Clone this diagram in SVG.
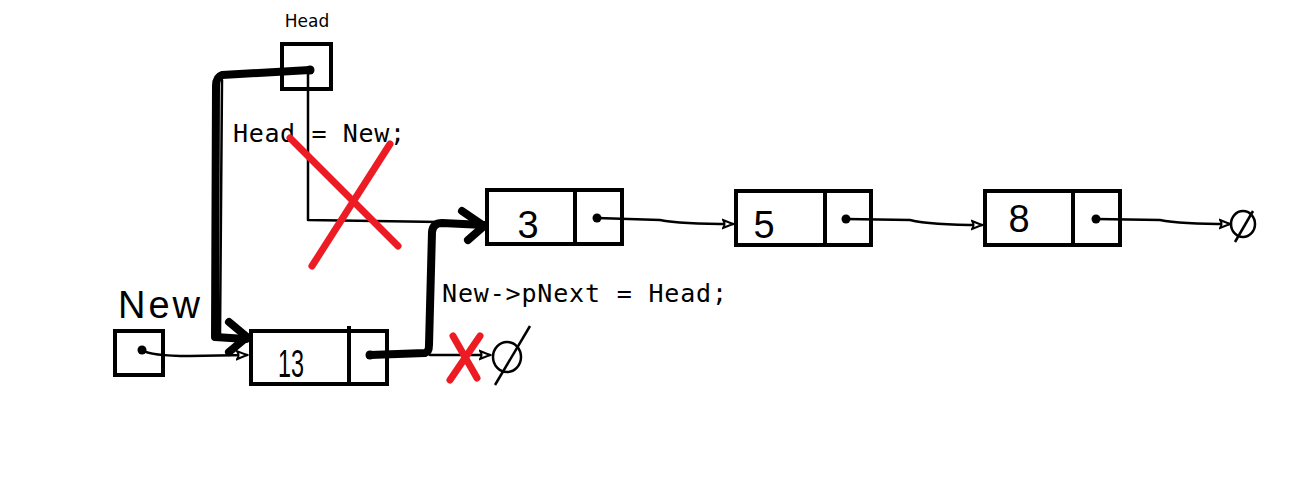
<svg xmlns="http://www.w3.org/2000/svg" width="1299" height="496" viewBox="0 0 1299 496">
<style>
.box{fill:none;stroke:#000;stroke-width:4}
.thin{fill:none;stroke:#000;stroke-width:2.5;stroke-linecap:round;stroke-linejoin:round}
.thick{fill:none;stroke:#000;stroke-width:8;stroke-linecap:round;stroke-linejoin:round}
.red{fill:none;stroke:#ed1c24;stroke-width:7;stroke-linecap:round}
.code{font-family:"DejaVu Sans Mono","Liberation Mono",monospace;font-size:25px;fill:#000}
.hand{font-family:"Liberation Sans",sans-serif;font-size:38px;fill:#000}
.dot{fill:#000}
</style>
<defs>
<marker id="ah" markerWidth="14" markerHeight="12" refX="11" refY="6" orient="auto" markerUnits="userSpaceOnUse">
<path d="M1,2 L11,6 L1,10 Q4,6 1,2 Z" fill="#fff" stroke="#000" stroke-width="2"/>
</marker>
</defs>
<rect width="1299" height="496" fill="#fff"/>

<g id="head">
<text x="307" y="27" font-family="DejaVu Sans,sans-serif" font-size="17" text-anchor="middle">Head</text>
<rect class="box" x="282" y="44" width="49" height="45"/>
<circle class="dot" cx="310" cy="70" r="4.5"/>
</g>

<g id="newptr">
<text class="hand" x="118" y="318" font-size="36" textLength="82">New</text>
<rect class="box" x="115" y="331" width="48" height="44"/>
<circle class="dot" cx="142" cy="350" r="4.5"/>
</g>

<g id="n13">
<rect class="box" x="251" y="331" width="136" height="53"/>
<line x1="349" y1="326" x2="349" y2="384" stroke="#000" stroke-width="4"/>
<text class="hand" x="278" y="377" textLength="26" lengthAdjust="spacingAndGlyphs">13</text>
<circle class="dot" cx="370" cy="355" r="4.5"/>
</g>

<g id="n3">
<rect class="box" x="487" y="190" width="135" height="54"/>
<line x1="575" y1="190" x2="575" y2="244" stroke="#000" stroke-width="4"/>
<text class="hand" x="528" y="238" text-anchor="middle">3</text>
<circle class="dot" cx="597" cy="218" r="4.5"/>
</g>

<g id="n5">
<rect class="box" x="736" y="191" width="135" height="54"/>
<line x1="825" y1="191" x2="825" y2="245" stroke="#000" stroke-width="4"/>
<text class="hand" x="764" y="238" text-anchor="middle">5</text>
<circle class="dot" cx="846" cy="219" r="4.5"/>
</g>

<g id="n8">
<rect class="box" x="985" y="191" width="135" height="54"/>
<line x1="1073" y1="191" x2="1073" y2="245" stroke="#000" stroke-width="4"/>
<text class="hand" x="1019" y="232" text-anchor="middle">8</text>
<circle class="dot" cx="1096" cy="219" r="4.5"/>
</g>

<g id="null1">
<ellipse cx="507" cy="357" rx="14" ry="15" fill="none" stroke="#000" stroke-width="2.5"/>
<line x1="530" y1="326" x2="495" y2="385" stroke="#000" stroke-width="2.5"/>
</g>

<g id="null2">
<ellipse cx="1243" cy="224" rx="12" ry="13" fill="none" stroke="#000" stroke-width="2.5"/>
<line x1="1253" y1="211" x2="1235" y2="242" stroke="#000" stroke-width="2.5"/>
</g>

<g id="labels">
<text class="code" x="233" y="142" textLength="172">Head = New;</text>
<text class="code" x="442" y="302" textLength="285">New-&gt;pNext = Head;</text>
</g>

<g id="connectors">
<path class="thin" d="M308,72 L308,220 L440,222"/>
<path class="thin" d="M142,350 Q150,356 190,356 L247,355" marker-end="url(#ah)"/>
<path class="thin" d="M597,218 L660,220 Q680,224 733,224" marker-end="url(#ah)"/>
<path class="thin" d="M846,219 L910,220 Q930,225 982,225" marker-end="url(#ah)"/>
<path class="thin" d="M1096,219 L1160,220 Q1180,224 1230,224" marker-end="url(#ah)"/>
<path class="thin" d="M430,355 L490,355" marker-end="url(#ah)"/>
<path class="thick" d="M310,70 L222,75 Q216,77 216,86 L215,337 L246,339"/>
<path class="thin" d="M222,80 L220,337"/>
<path class="thick" d="M229,322 L247,337 L229,352"/>
<path class="thick" d="M370,355 L425,353 Q429,352 429,345 L432,232 Q433,223 442,223 L484,225"/>
<path class="thick" d="M462,211 L484,226 L468,240"/>
</g>

<g id="crosses">
<line class="red" x1="290" y1="138" x2="398" y2="246"/>
<line class="red" x1="390" y1="144" x2="312" y2="266"/>
<line class="red" x1="453" y1="336" x2="477" y2="378"/>
<line class="red" x1="480" y1="336" x2="450" y2="380"/>
</g>
</svg>
